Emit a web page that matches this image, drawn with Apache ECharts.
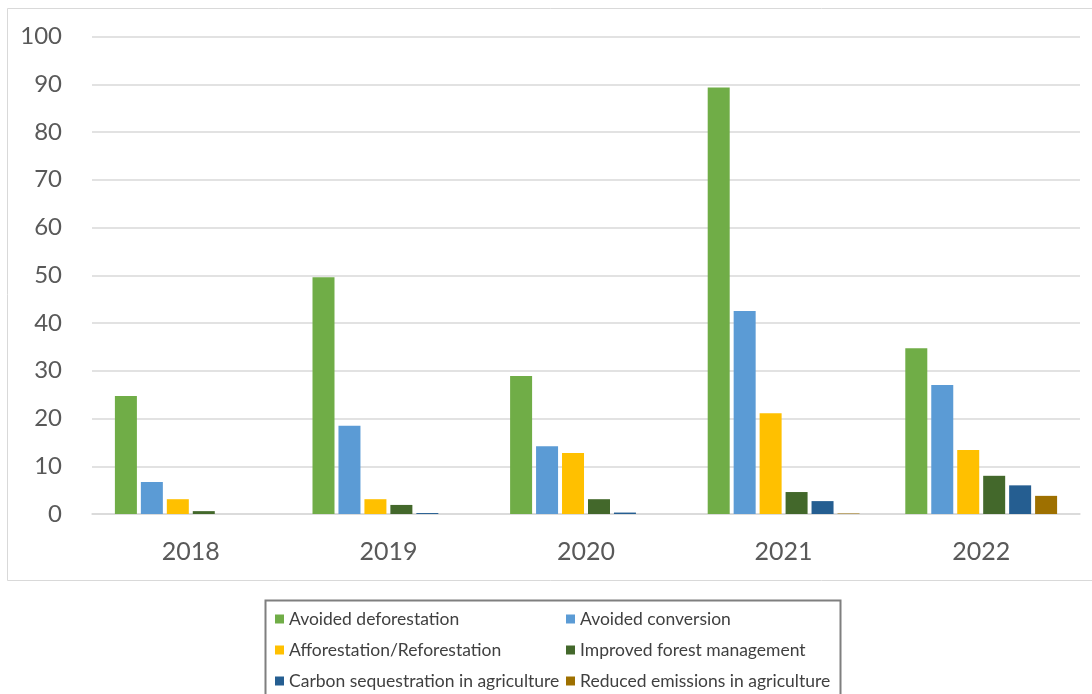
<!DOCTYPE html>
<html>
<head>
<meta charset="utf-8">
<script src="https://cdn.jsdelivr.net/npm/echarts@6/dist/echarts.min.js"></script>
<style>
  html, body { margin: 0; padding: 0; background: #fff; }
  #chart { width: 1092px; height: 694px; }
</style>
</head>
<body>
<div id="chart"></div>
<script>
// Categories (years)
const years = ['2018', '2019', '2020', '2021', '2022'];

// Series values per year
const avoidedDeforestation = [24.7, 49.6, 28.9, 89.3, 34.7];
const avoidedConversion = [6.7, 18.5, 14.2, 42.5, 27.0];
const afforestation = [3.1, 3.1, 12.8, 21.1, 13.4];
const improvedForest = [0.6, 1.9, 3.1, 4.6, 8.0];
const carbonSequestration = [0, 0.2, 0.3, 2.7, 6.0];
const reducedEmissions = [0, 0, 0, 0.1, 3.8];

const seriesNames = [
  'Avoided deforestation',
  'Avoided conversion',
  'Afforestation/Reforestation',
  'Improved forest management',
  'Carbon sequestration in agriculture',
  'Reduced emissions in agriculture'
];
const seriesData = [avoidedDeforestation, avoidedConversion, afforestation,
  improvedForest, carbonSequestration, reducedEmissions];
const colors = ['#70AD47', '#5B9BD5', '#FFC000', '#43682B', '#255E91', '#9E7000'];

const FONT = 'Lato, "Open Sans", sans-serif';

const chart = echarts.init(document.getElementById('chart'));

const legendBase = {
  orient: 'vertical',
  itemWidth: 9,
  itemHeight: 9,
  itemGap: 13,
  icon: 'rect',
  textStyle: { fontFamily: FONT, fontSize: 17.5, color: '#404040', lineHeight: 18 },
  padding: 0,
  selectedMode: false
};

chart.setOption({
  animation: false,
  backgroundColor: '#fff',
  color: colors,
  graphic: [
    { type: 'rect', shape: { x: 7.5, y: 8.5, width: 1100, height: 572 },
      style: { fill: 'none', stroke: '#D9D9D9', lineWidth: 1 }, silent: true },
    { type: 'rect', shape: { x: 265.5, y: 600.5, width: 575, height: 110 },
      style: { fill: 'none', stroke: '#7F7F7F', lineWidth: 2 }, silent: true }
  ],
  grid: { left: 92, right: 12, top: 36.5, bottom: 180, containLabel: false },
  legend: [
    Object.assign({}, legendBase, { left: 275, top: 610, data: [seriesNames[0], seriesNames[2], seriesNames[4]] }),
    Object.assign({}, legendBase, { left: 566, top: 610, data: [seriesNames[1], seriesNames[3], seriesNames[5]] })
  ],
  xAxis: {
    type: 'category',
    data: years,
    axisTick: { show: false },
    axisLine: { lineStyle: { color: '#D9D9D9', width: 1.5 } },
    axisLabel: { fontFamily: FONT, fontSize: 25, color: '#595959', margin: 25 }
  },
  yAxis: {
    type: 'value',
    min: 0,
    max: 100,
    interval: 10,
    axisLine: { show: false },
    axisTick: { show: false },
    splitLine: { lineStyle: { color: '#D9D9D9', width: 1.5 } },
    axisLabel: { fontFamily: FONT, fontSize: 24, color: '#595959', margin: 30 }
  },
  series: seriesNames.map((name, i) => ({
    name: name,
    type: 'bar',
    data: seriesData[i],
    barWidth: 22,
    barGap: '18%',
    itemStyle: { color: colors[i] }
  }))
});
</script>
</body>
</html>
